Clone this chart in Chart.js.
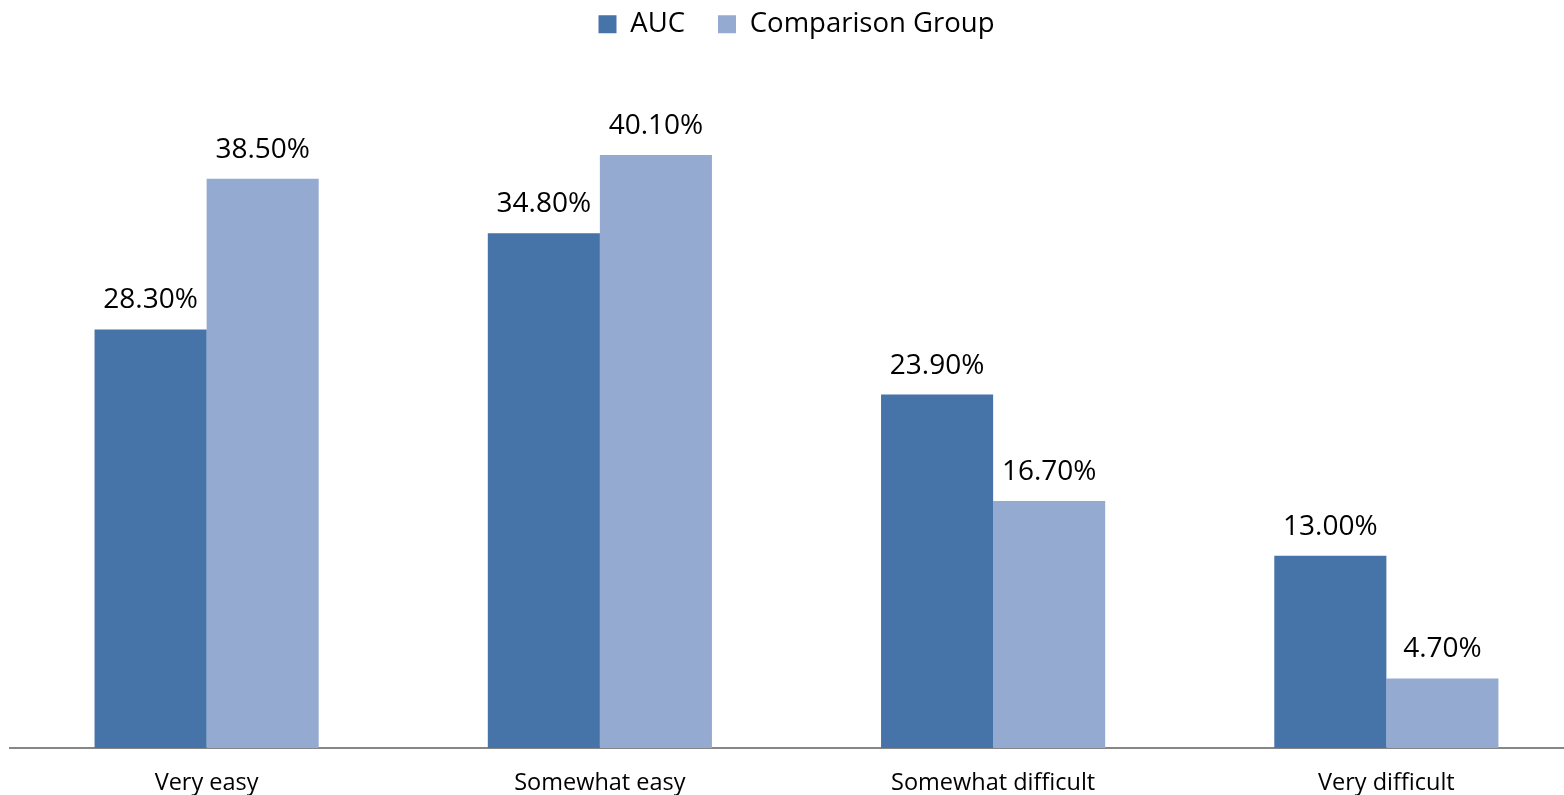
<!DOCTYPE html>
<html>
<head>
<meta charset="utf-8">
<script src="https://cdn.jsdelivr.net/npm/chart.js@4/dist/chart.umd.min.js"></script>
<style>
  html, body { margin: 0; padding: 0; background: #ffffff; overflow: hidden; }
  #wrap { width: 1584px; height: 795px; }
</style>
</head>
<body>
<div id="wrap"><canvas id="c" width="1584" height="795"></canvas></div>
<script>
const categories = ["Very easy", "Somewhat easy", "Somewhat difficult", "Very difficult"];
const seriesNames = ["AUC", "Comparison Group"];
const aucValues = [28.3, 34.8, 23.9, 13.0];
const comparisonValues = [38.5, 40.1, 16.7, 4.7];
const seriesColors = ["#4673A8", "#95AAD1"];

const FONT = "'Open Sans', 'DejaVu Sans', sans-serif";

// Percentage labels above each bar, positioned from the bar elements
const valueLabels = {
  id: "valueLabels",
  afterDatasetsDraw(chart) {
    const ctx = chart.ctx;
    ctx.save();
    ctx.font = "28px " + FONT;
    ctx.fillStyle = "#000000";
    ctx.textAlign = "center";
    ctx.textBaseline = "alphabetic";
    chart.data.datasets.forEach((ds, i) => {
      chart.getDatasetMeta(i).data.forEach((bar, j) => {
        ctx.fillText(ds.data[j].toFixed(2) + "%", bar.x, bar.y - 21);
      });
    });
    ctx.restore();
  }
};

new Chart(document.getElementById("c"), {
  type: "bar",
  data: {
    labels: categories,
    datasets: [
      { label: seriesNames[0], data: aucValues, backgroundColor: seriesColors[0] },
      { label: seriesNames[1], data: comparisonValues, backgroundColor: seriesColors[1] }
    ]
  },
  options: {
    responsive: false,
    devicePixelRatio: 1,
    animation: false,
    categoryPercentage: 0.57,
    barPercentage: 1.0,
    layout: { padding: { left: 10, right: 1, top: -22.5, bottom: 0 } },
    plugins: {
      tooltip: { enabled: false },
      legend: {
        position: "top",
        align: "center",
        labels: {
          boxWidth: 18,
          boxHeight: 18,
          padding: 33,
          color: "#000000",
          font: { family: FONT, size: 27.5 }
        }
      },
      // empty title box used as spacing between the legend and the bars
      title: {
        display: true,
        text: "",
        weight: 500,
        font: { family: FONT, size: 10, lineHeight: 1 },
        padding: { top: 0, bottom: 24.5 }
      }
    },
    scales: {
      y: { display: false, min: 0, max: 45 },
      x: {
        grid: { display: false, drawTicks: false },
        border: { display: true, color: "#868686", width: 2 },
        ticks: {
          color: "#000000",
          padding: 21,
          font: { family: FONT, size: 23.5 }
        },
        afterFit(scale) { scale.height = 47; }
      }
    }
  },
  plugins: [valueLabels]
});
</script>
</body>
</html>
